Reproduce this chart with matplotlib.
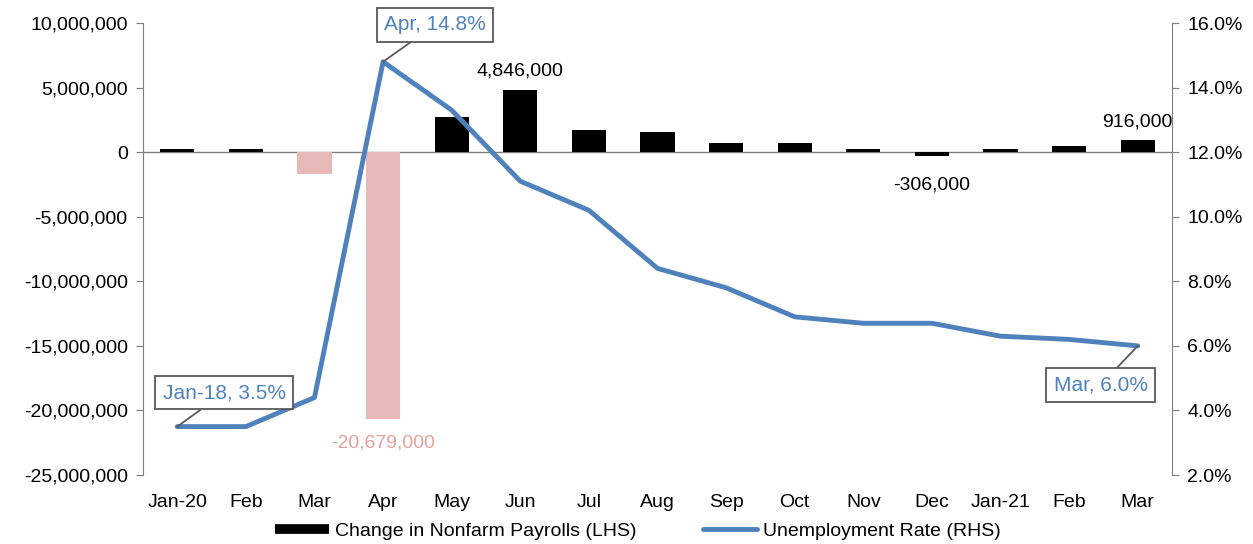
import matplotlib
matplotlib.use("Agg")
import matplotlib.pyplot as plt
from matplotlib.ticker import FuncFormatter, MultipleLocator
from matplotlib.lines import Line2D

plt.rcParams['font.family'] = ['Liberation Sans', 'DejaVu Sans']

months = ["Jan-20", "Feb", "Mar", "Apr", "May", "Jun", "Jul", "Aug", "Sep",
          "Oct", "Nov", "Dec", "Jan-21", "Feb", "Mar"]
payrolls = [273000, 251000, -1683000, -20679000, 2725000, 4846000, 1726000,
            1583000, 716000, 680000, 264000, -306000, 233000, 468000, 916000]
unemployment = [3.5, 3.5, 4.4, 14.8, 13.3, 11.1, 10.2, 8.4, 7.8, 6.9, 6.7,
                6.7, 6.3, 6.2, 6.0]

BLUE = '#4F81BD'
PINK = '#E6B9B8'
GRAY = '#7F7F7F'
FS = 14

fig = plt.figure(figsize=(12.53, 5.44), dpi=100)
ax = fig.add_axes([0.1141, 0.1268, 0.8213, 0.8309])
ax2 = ax.twinx()

x = list(range(len(months)))
colors = [PINK if (v < 0 and abs(v) > 1000000) else 'black' for v in payrolls]
ax.bar(x, payrolls, width=0.5, color=colors, zorder=2)
ax.axhline(0, color=GRAY, lw=1, zorder=1)

ax.set_xlim(-0.5, len(months) - 0.5)
ax.set_ylim(-25000000, 10000000)
ax.yaxis.set_major_locator(MultipleLocator(5000000))
ax.yaxis.set_major_formatter(FuncFormatter(lambda v, p: f"{int(v):,}"))
ax.set_xticks(x)
ax.set_xticklabels(months)
ax.tick_params(axis='x', length=0, pad=14, labelsize=FS)
ax.tick_params(axis='y', length=5, color=GRAY, labelsize=FS, pad=6)
for s in ['top', 'bottom', 'right']:
    ax.spines[s].set_visible(False)
ax.spines['left'].set_color(GRAY)

ax2.plot(x, unemployment, color=BLUE, lw=3.5, zorder=3, solid_capstyle='round')
ax2.set_ylim(2, 16)
ax2.yaxis.set_major_locator(MultipleLocator(2))
ax2.yaxis.set_major_formatter(FuncFormatter(lambda v, p: f"{v:.1f}%"))
ax2.tick_params(axis='y', length=5, color=GRAY, labelsize=FS, pad=6)
for s in ['top', 'bottom', 'left']:
    ax2.spines[s].set_visible(False)
ax2.spines['right'].set_color(GRAY)

# bar data labels
ax.annotate(f"{payrolls[5]:,}", (5, payrolls[5]), xytext=(0, 10),
            textcoords='offset pixels', ha='center', va='bottom', fontsize=FS)
ax.annotate(f"{payrolls[14]:,}", (14, payrolls[14]), xytext=(0, 10),
            textcoords='offset pixels', ha='center', va='bottom', fontsize=FS)
ax.annotate(f"{payrolls[11]:,}", (11, payrolls[11]), xytext=(0, -20),
            textcoords='offset pixels', ha='center', va='top', fontsize=FS)
ax.annotate(f"{payrolls[3]:,}", (3, payrolls[3]), xytext=(0, -15),
            textcoords='offset pixels', ha='center', va='top', fontsize=FS,
            color='#E6A19E')

# callouts
bbox = dict(boxstyle='square,pad=0.35', fc='white', ec='#595959', lw=1.3)
arrow = dict(arrowstyle='-', color='#595959', lw=1.3, shrinkA=0, shrinkB=0)


def callout(i, label, dx, dy):
    ax2.annotate(label, (i, unemployment[i]), xytext=(dx, dy),
                 textcoords='offset pixels', ha='center', va='center',
                 fontsize=15, color=BLUE, bbox=bbox, arrowprops=arrow, zorder=5)


callout(0, "Jan-18, 3.5%", 47, 34)
callout(3, "Apr, 14.8%", 52, 37)
callout(14, "Mar, 6.0%", -37, -39)

handles = [Line2D([0], [0], color='black', lw=7, solid_capstyle='butt'),
           Line2D([0], [0], color=BLUE, lw=3.5, solid_capstyle='round')]
fig.legend(handles, ["Change in Nonfarm Payrolls (LHS)", "Unemployment Rate (RHS)"],
           loc='center', bbox_to_anchor=(638 / 1253, 1 - 531 / 544), ncol=2, frameon=False,
           fontsize=FS, handlelength=2.8, handletextpad=0.3, columnspacing=3.4)

fig.savefig("out.png", dpi=100)
